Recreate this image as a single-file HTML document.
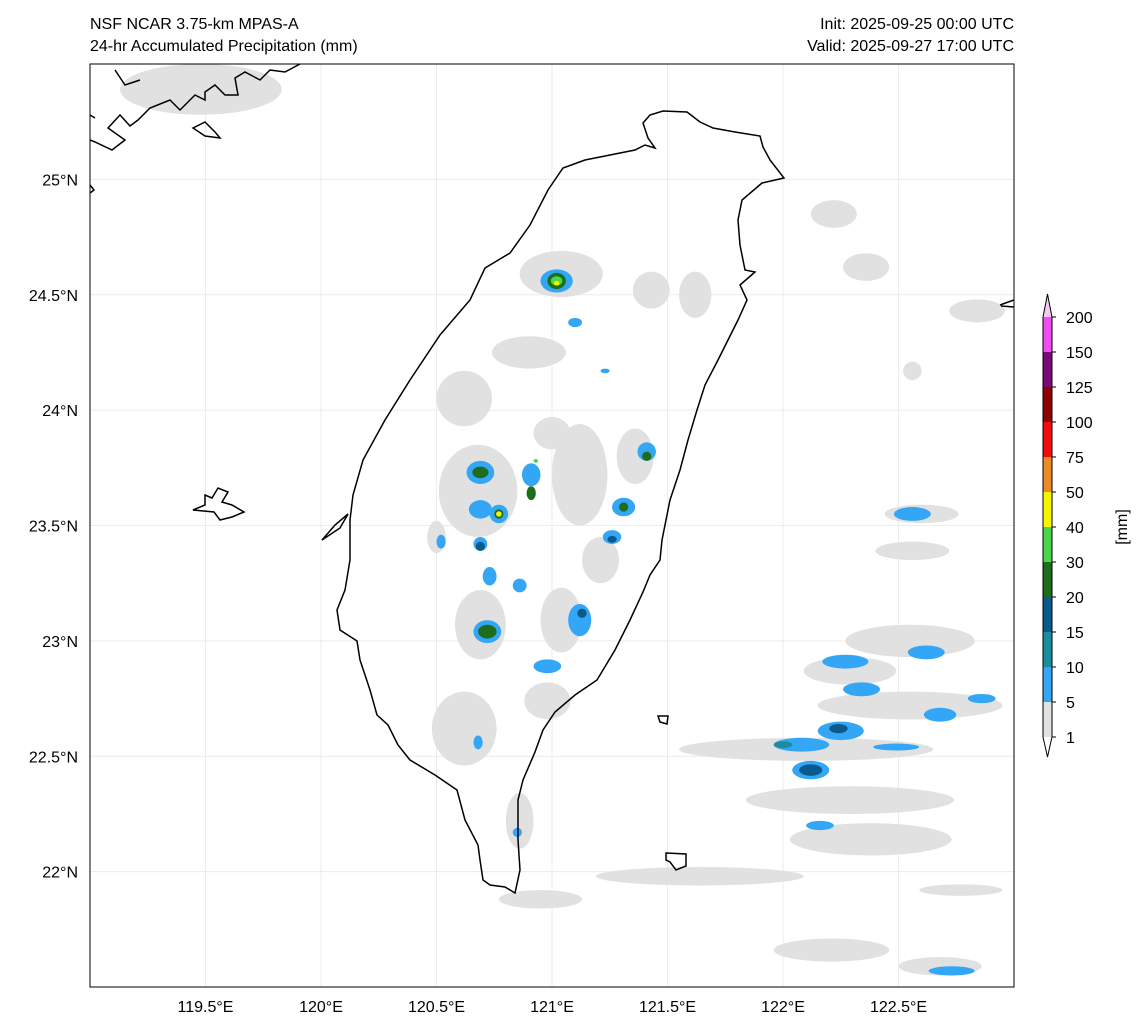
<!DOCTYPE html>
<html><head><meta charset="utf-8"><style>
body{margin:0;background:#fff;}
svg{display:block;font-family:"Liberation Sans",sans-serif;}
</style></head><body>
<svg width="1144" height="1032" viewBox="0 0 1144 1032">
<text x="90" y="29" font-size="16">NSF NCAR 3.75-km MPAS-A</text>
<text x="90" y="51" font-size="16">24-hr Accumulated Precipitation (mm)</text>
<text x="1014" y="29" font-size="16" text-anchor="end">Init: 2025-09-25 00:00 UTC</text>
<text x="1014" y="51" font-size="16" text-anchor="end">Valid: 2025-09-27 17:00 UTC</text>
<defs><clipPath id="mc"><rect x="90" y="64" width="924" height="923"/></clipPath></defs>
<g clip-path="url(#mc)">
<g id="grid"></g>
<g id="blobs"></g>
<g fill="none" stroke="#000" stroke-width="1.5">
<path d="M643,123 L650,115 663,111 687,112 700,122 713,128 735,132 760,136 763,147 770,160 784,178 762,183 742,200 738,220 740,245 745,270 755,272 740,285 747,300 738,320 728,340 718,360 705,385 697,410 688,440 680,470 670,500 662,540 660,560 650,575 643,592 630,620 615,650 597,680 575,695 555,712 543,730 535,752 523,780 518,800 518,840 520,870 515,893 505,887 490,885 483,880 480,860 478,845 465,820 457,790 435,775 410,760 398,745 388,725 377,715 370,690 360,660 357,641 340,630 337,610 345,590 350,560 350,520 353,495 363,460 385,420 410,380 440,335 470,300 485,268 510,253 530,225 548,190 563,168 585,160 610,155 635,150 645,145 655,148 648,138 643,123 Z"/>
<path d="M658,716 L668,716 667,724 660,722 Z"/>
<path d="M666,853 L686,854 686,866 676,870 670,862 666,860 Z"/>
<path d="M193,510 L205,505 205,495 212,498 218,488 228,492 222,502 232,505 244,512 232,517 220,520 214,512 Z"/>
<path d="M300,64 L285,72 270,70 260,80 245,72 235,78 238,95 225,95 215,85 205,92 205,100 195,95 180,110 170,100 150,108 138,120 130,126 120,115 108,128 125,140 112,150 95,142 90,140 M115,70 L125,85 140,80 M193,128 L205,122 215,132 220,138 205,136 Z M90,115 L95,118 M90,185 L94,190 90,193 M322,540 L335,525 348,514 340,528 Z M1000,305 L1014,300 M1001,306 L1014,307"/>
</g>
</g>
<rect x="90" y="64" width="924" height="923" fill="none" stroke="#000" stroke-width="1"/>
<g id="axes" font-size="16"></g>
<g id="cbar" font-size="16"></g>
<text transform="translate(1127,527) rotate(-90)" font-size="16" text-anchor="middle">[mm]</text>
</svg>
<script>
const lonTicks=[119.5,120,120.5,121,121.5,122,122.5];
const latTicks=[22,22.5,23,23.5,24,24.5,25];
const levels=[1,5,10,15,20,30,40,50,75,100,125,150,200];
const levelColors=["#e1e1e1","#33a6f6","#1a8d9e","#0a5a8c","#1c6d1c","#4cd64c","#f5f500","#ec8a26","#f20d0d","#8f0000","#7a0a7a","#f04ef0"];
// blobs: lon, lat, half-width (deg), half-height (deg), level index
const blobLon=[119.48,121.04,120.62,120.90,121.43,120.68,121.12,121.36,121.21,120.69,121.04,120.62,120.98,120.86,122.22,122.36,122.84,122.56,122.60,122.56,122.55,122.29,122.55,122.10,122.29,122.38,121.64,120.95,122.21,122.68,122.77,121.62,120.50,121.00,
 121.02,120.69,120.69,120.91,120.77,121.31,121.26,121.41,120.72,121.12,120.69,120.73,120.86,120.98,122.27,122.34,122.08,122.25,122.12,122.49,122.56,122.62,122.68,122.86,122.16,122.73,120.52,121.23,121.10,120.68,120.85,
 121.02,120.69,120.91,120.77,121.31,120.72,122.12,122.24,122.00,121.41,121.26,120.69,121.13,
 121.02,120.77,121.02,120.93];
const blobLat=[25.39,24.59,24.05,24.25,24.52,23.65,23.72,23.80,23.35,23.07,23.09,22.62,22.74,22.22,24.85,24.62,24.43,24.17,23.55,23.39,23.0,22.87,22.72,22.53,22.31,22.14,21.98,21.88,21.66,21.59,21.92,24.50,23.45,23.90,
 24.56,23.73,23.57,23.72,23.55,23.58,23.45,23.82,23.04,23.09,23.42,23.28,23.24,22.89,22.91,22.79,22.55,22.61,22.44,22.54,23.55,22.95,22.68,22.75,22.20,21.57,23.43,24.17,24.38,22.56,22.17,
 24.56,23.73,23.64,23.55,23.58,23.04,22.44,22.62,22.55,23.80,23.44,23.41,23.12,
 24.56,23.55,24.55,23.78];
const blobRx=[0.35,0.18,0.12,0.16,0.08,0.17,0.12,0.08,0.08,0.11,0.09,0.14,0.1,0.06,0.1,0.1,0.12,0.04,0.16,0.16,0.28,0.2,0.4,0.55,0.45,0.35,0.45,0.18,0.25,0.18,0.18,0.07,0.04,0.08,
 0.07,0.06,0.05,0.04,0.04,0.05,0.04,0.04,0.06,0.05,0.03,0.03,0.03,0.06,0.1,0.08,0.12,0.1,0.08,0.1,0.08,0.08,0.07,0.06,0.06,0.1,0.02,0.02,0.03,0.02,0.02,
 0.04,0.035,0.02,0.02,0.02,0.04,0.05,0.04,0.04,0.02,0.02,0.02,0.02,
 0.025,0.012,0.012,0.01];
const blobRy=[0.11,0.1,0.12,0.07,0.08,0.2,0.22,0.12,0.1,0.15,0.14,0.16,0.08,0.12,0.06,0.06,0.05,0.04,0.04,0.04,0.07,0.06,0.06,0.05,0.06,0.07,0.04,0.04,0.05,0.04,0.025,0.1,0.07,0.07,
 0.05,0.05,0.04,0.05,0.04,0.04,0.03,0.04,0.05,0.07,0.03,0.04,0.03,0.03,0.03,0.03,0.03,0.04,0.04,0.015,0.03,0.03,0.03,0.02,0.02,0.02,0.03,0.01,0.02,0.03,0.02,
 0.035,0.025,0.03,0.02,0.02,0.03,0.025,0.02,0.015,0.02,0.015,0.02,0.02,
 0.02,0.012,0.01,0.008];
const blobLev=[0,0,0,0,0,0,0,0,0,0,0,0,0,0,0,0,0,0,0,0,0,0,0,0,0,0,0,0,0,0,0,0,0,0,
 1,1,1,1,1,1,1,1,1,1,1,1,1,1,1,1,1,1,1,1,1,1,1,1,1,1,1,1,1,1,1,
 4,4,4,4,4,4,3,3,2,4,3,3,3,
 5,6,6,5];
const X0=90,X1=1014,Y0=64,Y1=987,LON0=119,LON1=123,LAT0=21.5,LAT1=25.5;
const x=lon=>X0+(lon-LON0)/(LON1-LON0)*(X1-X0);
const y=lat=>Y0+(LAT1-lat)/(LAT1-LAT0)*(Y1-Y0);
const NS="http://www.w3.org/2000/svg";
const mk=(t,a)=>{const e=document.createElementNS(NS,t);for(const k in a)e.setAttribute(k,a[k]);return e;};
const grid=document.getElementById('grid');
lonTicks.forEach(v=>{const l=mk('line',{x1:x(v),x2:x(v),y1:Y0,y2:Y1,stroke:'#ececec','stroke-width':1});

grid.appendChild(l);});
latTicks.forEach(v=>{const l=mk('line',{x1:X0,x2:X1,y1:y(v),y2:y(v),stroke:'#ececec','stroke-width':1});

grid.appendChild(l);});
const bl=document.getElementById('blobs');
const sx=(X1-X0)/(LON1-LON0),sy=(Y1-Y0)/(LAT1-LAT0);
blobLon.forEach((lo,i)=>{const e=mk('ellipse',{cx:x(lo),cy:y(blobLat[i]),rx:blobRx[i]*sx,ry:blobRy[i]*sy,fill:levelColors[blobLev[i]]});

bl.appendChild(e);});
const ax=document.getElementById('axes');
lonTicks.forEach(v=>{const t=mk('text',{x:x(v),y:1012,'text-anchor':'middle'});t.textContent=v+'°E';

ax.appendChild(t);});
latTicks.forEach(v=>{const t=mk('text',{x:78,y:y(v)+6,'text-anchor':'end'});t.textContent=v+'°N';

ax.appendChild(t);});
const cb=document.getElementById('cbar');
const CX=1043,CW=9,CT=317,STEP=35;
const cy=i=>CT+(levels.length-1-i)*STEP;
for(let i=0;i<levelColors.length;i++){const r=mk('rect',{x:CX,y:cy(i+1),width:CW,height:STEP,fill:levelColors[i]});

cb.appendChild(r);}
const up=mk('path',{d:`M${CX},${cy(levels.length-1)} L${CX+CW/2},294 L${CX+CW},${cy(levels.length-1)} Z`,fill:'#f7c8f7'});

cb.appendChild(up);
const dn=mk('path',{d:`M${CX},${cy(0)} L${CX+CW/2},757 L${CX+CW},${cy(0)} Z`,fill:'#ffffff'});

cb.appendChild(dn);
const ol=mk('path',{d:`M${CX},${cy(0)} L${CX},${cy(levels.length-1)} L${CX+CW/2},294 L${CX+CW},${cy(levels.length-1)} L${CX+CW},${cy(0)} L${CX+CW/2},757 Z`,fill:'none',stroke:'#000','stroke-width':1});

cb.appendChild(ol);
levels.forEach((v,i)=>{const tk=mk('line',{x1:CX+CW,x2:CX+CW+4,y1:cy(i),y2:cy(i),stroke:'#000'});

cb.appendChild(tk);
const t=mk('text',{x:1066,y:cy(i)+6});t.textContent=v;

cb.appendChild(t);});
</script>
</body></html>
